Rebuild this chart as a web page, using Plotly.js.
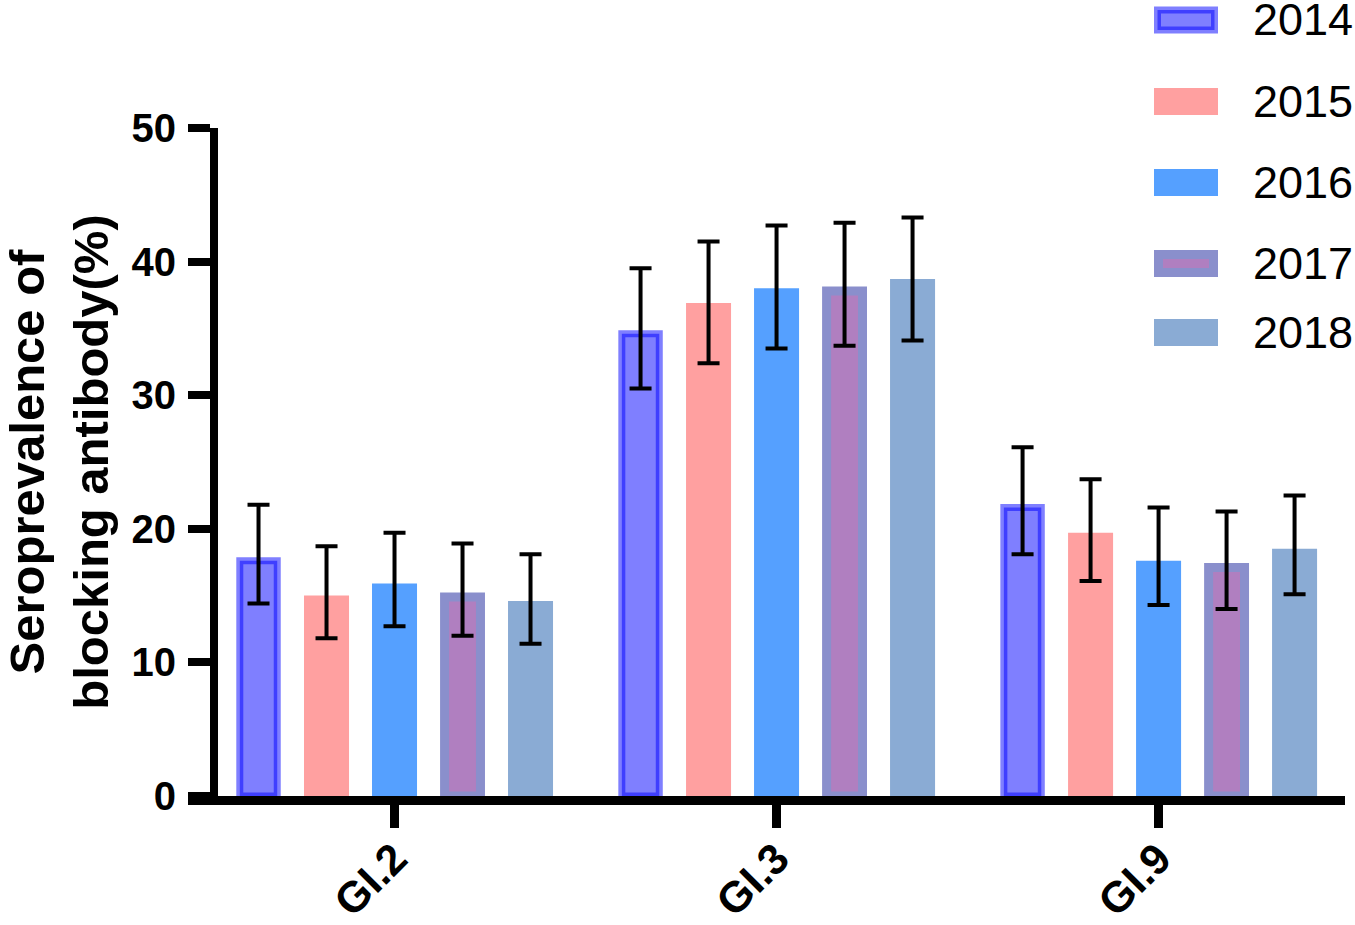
<!DOCTYPE html>
<html>
<head>
<meta charset="utf-8">
<script src="https://cdn.plot.ly/plotly-3.0.1.min.js"></script>
<style>
  html, body { margin: 0; padding: 0; background: #fff; }
  #graph { width: 1355px; height: 925px; }
</style>
</head>
<body>
<div id="graph"></div>
<script>
// genotype groups and years
var genotypes = ['GI.2', 'GI.3', 'GI.9'];
var years = ['2014', '2015', '2016', '2017', '2018'];

// seroprevalence (%) per year, one value per genotype
var prev2014 = [17.6, 34.6, 21.6];
var prev2015 = [15.0, 36.9, 19.7];
var prev2016 = [15.9, 38.0, 17.6];
var prev2017 = [14.9, 37.8, 17.1];
var prev2018 = [14.6, 38.7, 18.5];

// upper and lower ends of the error bars
var upper2014 = [21.8, 39.5, 26.1];
var lower2014 = [14.4, 30.5, 18.1];
var upper2015 = [18.7, 41.5, 23.7];
var lower2015 = [11.8, 32.4, 16.1];
var upper2016 = [19.7, 42.7, 21.6];
var lower2016 = [12.7, 33.5, 14.3];
var upper2017 = [18.9, 42.9, 21.3];
var lower2017 = [12.0, 33.7, 14.0];
var upper2018 = [18.1, 43.3, 22.5];
var lower2018 = [11.4, 34.1, 15.1];

var yTicks = [0, 10, 20, 30, 40, 50];

var values = [prev2014, prev2015, prev2016, prev2017, prev2018];
var uppers = [upper2014, upper2015, upper2016, upper2017, upper2018];
var lowers = [lower2014, lower2015, lower2016, lower2017, lower2018];

// 바 스타일 (2014, 2017 은 테두리 있음)
var fills = ['rgba(0,0,255,0.5)', '#ffa0a0', '#55a0ff', '#b07fc0', '#8aabd4'];
var borders = ['rgba(0,0,255,0.5)', '#ffa0a0', '#55a0ff', '#8a8fcc', '#8aabd4'];
var borderWidths = [7, 0, 0, 9, 0];
var barWidths = [0.098, null, null, 0.094, null];

var W = 1355, H = 925;
var M = { l: 188, r: 10, t: 128, b: 129 };
var plotW = W - M.l - M.r, plotH = H - M.t - M.b;
function px2x(px) { return (px - M.l) / plotW; }
function px2y(py) { return (H - M.b - py) / plotH; }

var font = 'Arial, "Liberation Sans", Helvetica, sans-serif';

var traces = years.map(function (yr, i) {
    var plus = uppers[i].map(function (u, k) { return +(u - values[i][k]).toFixed(2); });
    var minus = lowers[i].map(function (l, k) { return +(values[i][k] - l).toFixed(2); });
    var t = {
        type: 'bar',
        name: yr,
        x: genotypes,
        y: values[i],
        marker: {
            color: fills[i],
            line: { color: borders[i], width: borderWidths[i] }
        },
        error_y: {
            type: 'data',
            symmetric: false,
            array: plus,
            arrayminus: minus,
            color: '#000',
            thickness: 4,
            width: 11
        },
        showlegend: false,
        hoverinfo: 'x+y+name'
    };
    if (barWidths[i]) t.width = barWidths[i];
    return t;
});

// 범례 (오른쪽 위)
var legendCenters = [20, 101.5, 182.5, 263.5, 332.5];
var shapes = [];
var annotations = [];
years.forEach(function (yr, i) {
    var cy = legendCenters[i];
    var inset = borderWidths[i] / 2;
    shapes.push({
        type: 'rect', xref: 'paper', yref: 'paper', layer: 'above',
        x0: px2x(1154 + inset), x1: px2x(1218 - inset),
        y0: px2y(cy - 13.5 + inset), y1: px2y(cy + 13.5 - inset),
        fillcolor: fills[i],
        line: { color: borders[i], width: borderWidths[i] }
    });
    annotations.push({
        xref: 'paper', yref: 'paper',
        x: px2x(1251), y: px2y(cy),
        xanchor: 'left', yanchor: 'middle',
        text: yr, showarrow: false,
        font: { family: font, size: 45, color: '#000' }
    });
});

var layout = {
    width: W,
    height: H,
    margin: M,
    paper_bgcolor: '#fff',
    plot_bgcolor: 'rgba(0,0,0,0)',
    barmode: 'group',
    bargap: 0.11,
    bargroupgap: 0.338,
    showlegend: false,
    xaxis: {
        type: 'category',
        range: [-0.5406, 2.488],
        showline: true,
        linecolor: '#000',
        linewidth: 9,
        ticks: 'outside',
        ticklen: 23,
        tickwidth: 9,
        tickcolor: '#000',
        tickangle: -45,
        ticklabelstandoff: -12,
        tickfont: { family: font, size: 43, color: '#000', weight: 'bold' },
        showgrid: false,
        zeroline: false,
        fixedrange: true
    },
    yaxis: {
        range: [0, 50],
        tickvals: yTicks,
        anchor: 'free',
        position: px2x(214),
        showline: true,
        linecolor: '#000',
        linewidth: 8,
        ticks: 'outside',
        ticklen: 22,
        tickwidth: 8,
        tickcolor: '#000',
        ticklabelstandoff: 4,
        tickfont: { family: font, size: 40, color: '#000', weight: 'bold' },
        title: {
            text: 'Seroprevalence of<br>blocking antibody(%)',
            font: { family: font, size: 49, color: '#000', weight: 'bold' },
            standoff: 21
        },
        showgrid: false,
        zeroline: false,
        fixedrange: true
    },
    shapes: shapes,
    annotations: annotations
};

Plotly.newPlot('graph', traces, layout, { displayModeBar: false, staticPlot: true });
</script>
</body>
</html>
